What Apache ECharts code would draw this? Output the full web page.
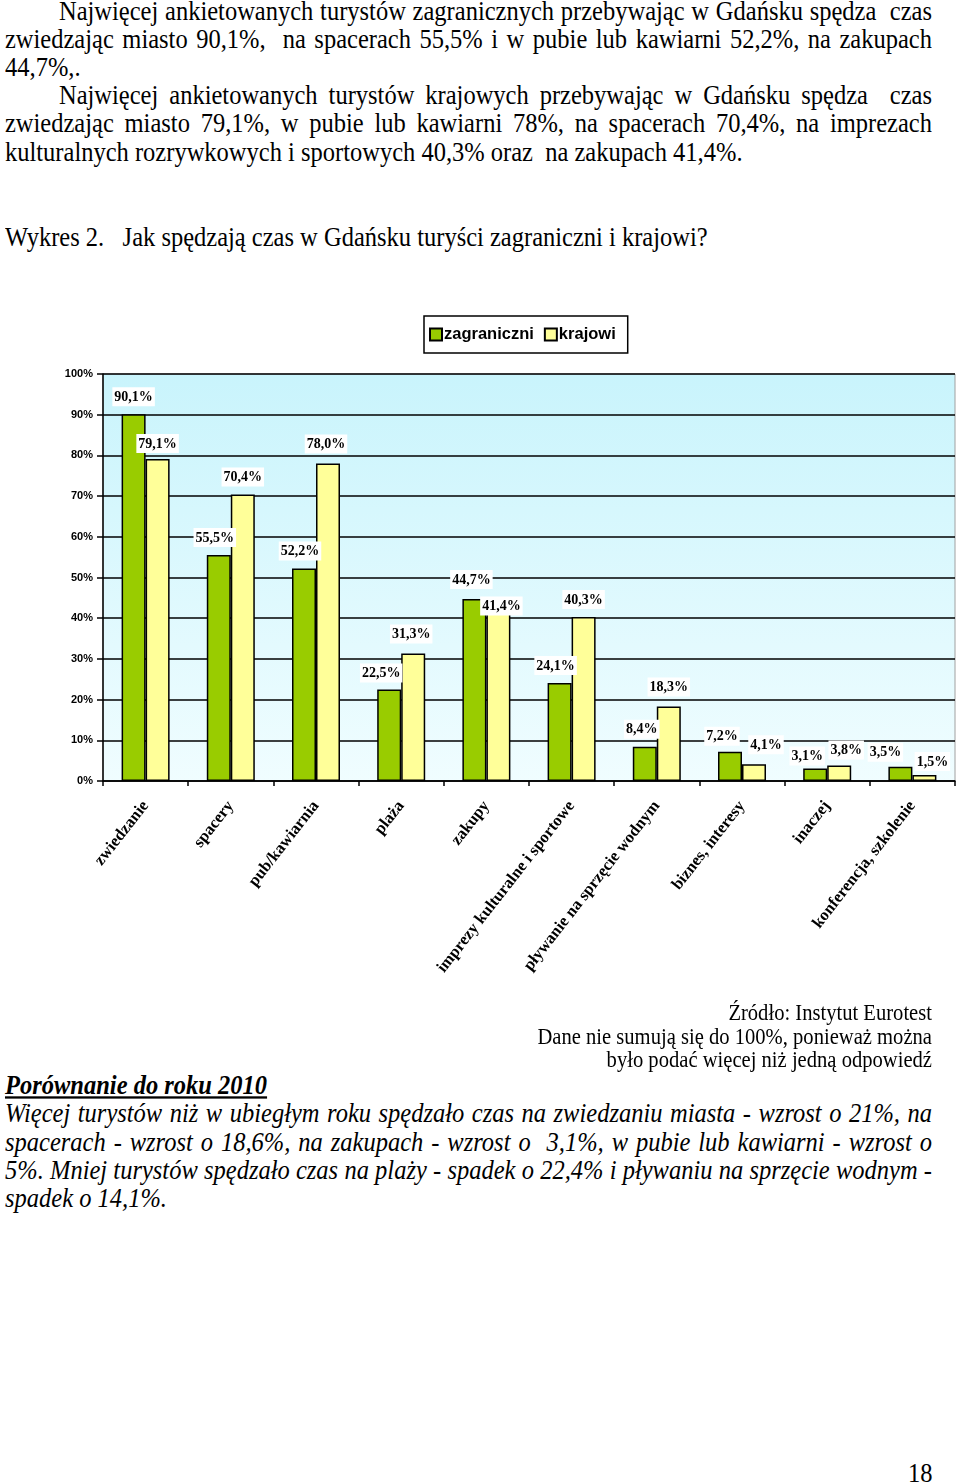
<!DOCTYPE html>
<html>
<head>
<meta charset="utf-8">
<script src="https://cdn.jsdelivr.net/npm/echarts@6/dist/echarts.min.js"></script>
<style>
  html, body { margin: 0; padding: 0; background: #fff; }
  body { width: 960px; height: 1483px; position: relative; overflow: hidden; }
  .ln { position: absolute; font-family: "Liberation Serif", "Times New Roman", serif; font-size: 24.5px; line-height: 24.5px;
        white-space: nowrap; transform: scaleY(1.151); transform-origin: top left; color: #000; }
  .j { text-align: justify; text-align-last: justify; white-space: normal; }
  .src { position: absolute; font-family: "Liberation Serif", "Times New Roman", serif; font-size: 20.6px; line-height: 20.5px;
        white-space: nowrap; transform: scaleY(1.15); transform-origin: top right; text-align: right; right: 28px; }
  .it { font-style: italic; }
  #chart { position: absolute; left: 0; top: 290px; width: 960px; height: 710px; }
</style>
</head>
<body>
<div class="ln j" style="left:59px;top:-3px;width:873px;">Najwięcej ankietowanych turystów zagranicznych przebywając w Gdańsku spędza&nbsp; czas</div>
<div class="ln j" style="left:5px;top:25px;width:927px;">zwiedzając miasto 90,1%,&nbsp; na spacerach 55,5% i w pubie lub kawiarni 52,2%, na zakupach</div>
<div class="ln" style="left:5px;top:53px;">44,7%,.</div>
<div class="ln j" style="left:59px;top:81px;width:873px;">Najwięcej ankietowanych turystów krajowych przebywając w Gdańsku spędza&nbsp; czas</div>
<div class="ln j" style="left:5px;top:109px;width:927px;">zwiedzając miasto 79,1%, w pubie lub kawiarni 78%, na spacerach 70,4%, na imprezach</div>
<div class="ln" style="left:5px;top:138px;">kulturalnych rozrywkowych i sportowych 40,3% oraz&nbsp; na zakupach 41,4%.</div>
<div class="ln" style="left:5px;top:223px;">Wykres 2.&nbsp;&nbsp; Jak spędzają czas w Gdańsku turyści zagraniczni i krajowi?</div>

<div id="chart"></div>

<div class="src" style="top:1000px;">Źródło: Instytut Eurotest</div>
<div class="src" style="top:1024px;">Dane nie sumują się do 100%, ponieważ można</div>
<div class="src" style="top:1047px;">było podać więcej niż jedną odpowiedź</div>
<div class="ln it" style="left:5px;top:1071px;font-weight:bold;text-decoration:underline;">Porównanie do roku 2010</div>
<div class="ln it j" style="left:5px;top:1099px;width:927px;">Więcej turystów niż w ubiegłym roku spędzało czas na zwiedzaniu miasta - wzrost o 21%, na</div>
<div class="ln it j" style="left:5px;top:1128px;width:927px;">spacerach - wzrost o 18,6%, na zakupach - wzrost o&nbsp; 3,1%, w pubie lub kawiarni - wzrost o</div>
<div class="ln it j" style="left:5px;top:1156px;width:927px;">5%. Mniej turystów spędzało czas na plaży - spadek o 22,4% i pływaniu na sprzęcie wodnym -</div>
<div class="ln it" style="left:5px;top:1184px;">spadek o 14,1%.</div>
<div class="ln" style="left:908px;top:1459px;">18</div>

<script>
const categories = ['zwiedzanie', 'spacery', 'pub/kawiarnia', 'plaża', 'zakupy',
  'imprezy kulturalne i sportowe', 'pływanie na sprzęcie wodnym', 'biznes, interesy',
  'inaczej', 'konferencja, szkolenie'];
const seriesNames = ['zagraniczni', 'krajowi'];
const zagraniczni = [90.1, 55.5, 52.2, 22.5, 44.7, 24.1, 8.4, 7.2, 3.1, 3.5];
const krajowi = [79.1, 70.4, 78.0, 31.3, 41.4, 40.3, 18.3, 4.1, 3.8, 1.5];
const yTicks = [0, 10, 20, 30, 40, 50, 60, 70, 80, 90, 100];

// manual label nudges (as placed in the original chart), [dx, dy] in px, per series
const nudges = [
  { 1: [-4, 0], 2: [-4, 0], 3: [-8, 1], 4: [-3, -2], 5: [-4, 0], 6: [-3, 0], 7: [-8, 2], 8: [-8, 5], 9: [-15, 3] },
  { 0: [0, 2], 2: [-2, -2], 3: [-2, -2], 4: [3, 11], 6: [0, -2], 7: [12, -2], 8: [7, 2], 9: [8, 4] }
];

const chart = echarts.init(document.getElementById('chart'), null, { renderer: 'canvas' });
const fmt = v => v.toFixed(1).replace('.', ',') + '%';
const baseLabel = {
  show: true,
  position: 'top',
  distance: 8,
  formatter: p => fmt(p.value),
  fontFamily: '"Liberation Serif", "Times New Roman", serif',
  fontWeight: 'bold',
  fontSize: 14,
  color: '#000',
  backgroundColor: '#fff',
  padding: [3, 2, 2, 2]
};
const layoutFn = p => {
  const n = nudges[p.seriesIndex][p.dataIndex] || [0, 0];
  return { dx: n[0], dy: n[1], hideOverlap: false };
};
chart.setOption({
  animation: false,
  legend: {
    left: 424,
    top: 26,
    data: seriesNames,
    icon: 'rect',
    itemWidth: 12,
    itemHeight: 12,
    itemGap: 10,
    padding: [10, 12, 10, 5],
    borderColor: '#000',
    borderWidth: 1.5,
    backgroundColor: '#fff',
    textStyle: { fontFamily: '"Liberation Sans", Arial, sans-serif', fontWeight: 'bold', fontSize: 16.5, color: '#000', padding: [0, 0, 0, -3] }
  },
  grid: {
    left: 103, right: 5, top: 84, bottom: 219,
    show: true,
    borderColor: '#a0a0a0',
    borderWidth: 1,
    backgroundColor: new echarts.graphic.LinearGradient(0, 0, 0, 1, [
      { offset: 0, color: '#c9f4fc' },
      { offset: 1, color: '#f0fdff' }
    ])
  },
  xAxis: {
    type: 'category',
    data: categories,
    axisLine: { lineStyle: { color: '#000', width: 1.5 } },
    axisTick: { show: true, length: 5, lineStyle: { color: '#000', width: 1.5 } },
    axisLabel: {
      interval: 0,
      rotate: 52,
      margin: 22,
      fontFamily: '"Liberation Serif", "Times New Roman", serif',
      fontWeight: 'bold',
      fontSize: 16.5,
      color: '#000'
    }
  },
  yAxis: {
    type: 'value',
    min: yTicks[0],
    max: yTicks[yTicks.length - 1],
    interval: yTicks[1] - yTicks[0],
    axisLine: { show: true, lineStyle: { color: '#000', width: 1.5 } },
    axisTick: { show: true, length: 6, lineStyle: { color: '#000', width: 1.5 } },
    splitLine: { show: true, lineStyle: { color: '#000', width: 1.5 } },
    axisLabel: {
      formatter: '{value}%',
      margin: 10,
      fontFamily: '"Liberation Sans", Arial, sans-serif',
      fontWeight: 'bold',
      fontSize: 11,
      color: '#000'
    }
  },
  series: [
    {
      name: seriesNames[0], type: 'bar', data: zagraniczni,
      barWidth: 24, barGap: '0%',
      itemStyle: { color: '#99cc00', borderColor: '#000', borderWidth: 1.5 },
      label: baseLabel,
      labelLayout: layoutFn
    },
    {
      name: seriesNames[1], type: 'bar', data: krajowi,
      barWidth: 24, barGap: '0%',
      itemStyle: { color: '#ffff99', borderColor: '#000', borderWidth: 1.5 },
      label: baseLabel,
      labelLayout: layoutFn
    }
  ]
});
</script>
</body>
</html>
